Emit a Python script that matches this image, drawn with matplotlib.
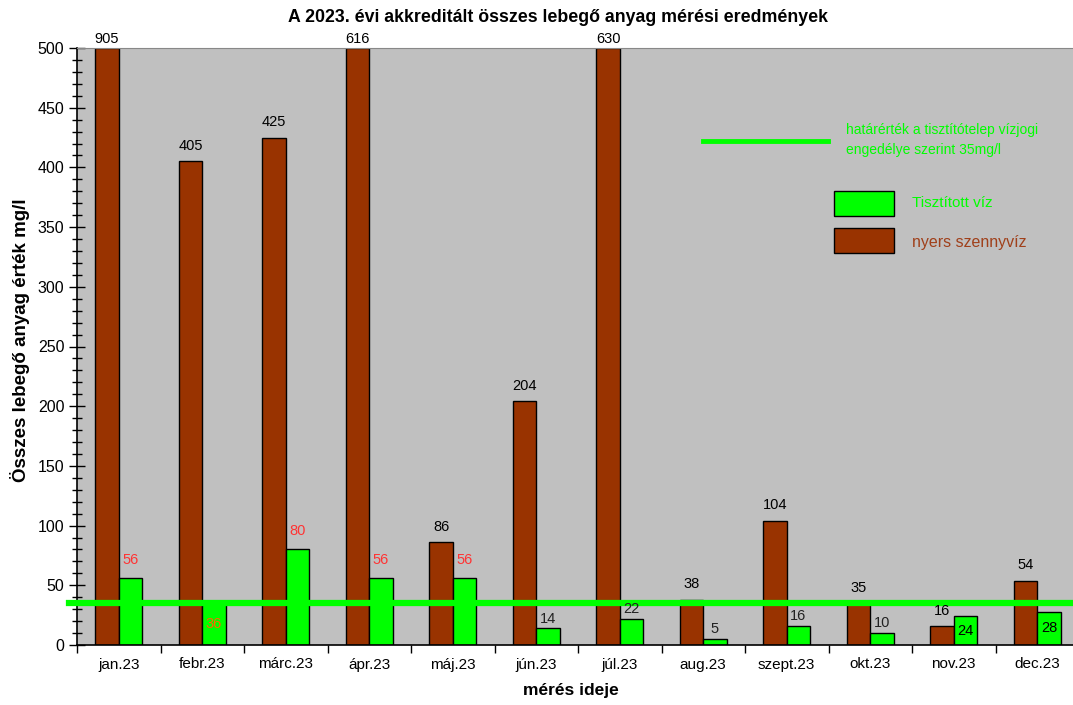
import matplotlib.pyplot as plt
from matplotlib.patches import Rectangle
from matplotlib.lines import Line2D
from matplotlib.ticker import MultipleLocator
import numpy as np

plt.rcParams['font.family'] = ['Liberation Sans', 'DejaVu Sans']

# monthly measurements, mg/l
months = ['jan.23', 'febr.23', 'márc.23', 'ápr.23', 'máj.23', 'jún.23',
          'júl.23', 'aug.23', 'szept.23', 'okt.23', 'nov.23', 'dec.23']
raw = [905, 405, 425, 616, 86, 204, 630, 38, 104, 35, 16, 54]
treated = [56, 36, 80, 56, 56, 14, 22, 5, 16, 10, 24, 28]
limit = 35

ymax = 500
brown = '#993300'
green = '#00FF00'

fig = plt.figure(figsize=(10.73, 7.05), dpi=100)
W, H = 1073, 705

def fx(px):
    return px / W

def fy(py):
    return 1 - py / H

ax = fig.add_axes([fx(77), fy(645), 1002 / W, 597 / H])
ax.set_facecolor('#C0C0C0')

x = np.arange(len(months)) + 0.5
bw = 0.28
ax.bar(x - bw / 2, np.minimum(raw, ymax), bw, color=brown, edgecolor='black', linewidth=1, zorder=2)
ax.bar(x + bw / 2, treated, bw, color=green, edgecolor='black', linewidth=1, zorder=2)

# value labels for raw sewage
for xi, v in zip(x, raw):
    if v > ymax:
        ax.annotate(str(v), (xi - bw / 2, ymax), xytext=(0, 1.5), textcoords='offset points',
                    ha='center', va='bottom', fontsize=10.5, annotation_clip=False)
    else:
        ax.annotate(str(v), (xi - bw / 2, v), xytext=(0, 6), textcoords='offset points',
                    ha='center', va='bottom', fontsize=10.5, zorder=4)

# value labels for treated water
for m, xi, v in zip(months, x, treated):
    if m in ('febr.23', 'nov.23', 'dec.23'):
        col = '#FF6600' if v > limit else 'black'
        ax.text(xi + bw / 2, v / 2, str(v), ha='center', va='center', fontsize=10.5, color=col, zorder=5)
    elif v > limit:
        ax.annotate(str(v), (xi + bw / 2, v), xytext=(0, 8), textcoords='offset points',
                    ha='center', va='bottom', fontsize=10.5, color='#FF3333', zorder=4)
    else:
        ax.annotate(str(v), (xi + bw / 2, v), xytext=(0, 2), textcoords='offset points',
                    ha='center', va='bottom', fontsize=10.5, color='#222222', zorder=4)

# permitted limit line
ax.plot([-0.1, 12.2], [limit, limit], color=green, linewidth=4.5, zorder=3, clip_on=False)

ax.set_xlim(0, 12)
ax.set_ylim(0, ymax)
ax.set_xticks(np.arange(0, 13))
ax.set_xticklabels([])
ax.set_xticks(x, minor=True)
ax.set_xticklabels(months, minor=True, fontsize=11)
ax.tick_params(axis='x', which='major', length=6, direction='out', width=1)
ax.tick_params(axis='x', which='minor', length=0, pad=9)
ax.yaxis.set_major_locator(MultipleLocator(50))
ax.yaxis.set_minor_locator(MultipleLocator(10))
ax.tick_params(axis='y', which='major', length=12, direction='inout', width=1, labelsize=11.5, pad=3)
ax.tick_params(axis='y', which='minor', length=7, direction='inout', width=1)

ax.spines['top'].set_color('#888888')
ax.spines['right'].set_visible(False)
ax.spines['left'].set_linewidth(1.2)
ax.spines['bottom'].set_linewidth(1.2)

fig.text(fx(20), fy(340), 'Összes lebegő anyag érték mg/l', rotation=90, ha='center', va='center',
         fontsize=13.5, fontweight='bold')
fig.text(fx(571), fy(691), 'mérés ideje', ha='center', va='center', fontsize=12.5, fontweight='bold')
fig.text(fx(558), fy(18), 'A 2023. évi akkreditált összes lebegő anyag mérési eredmények',
         ha='center', va='center', fontsize=12.8, fontweight='bold')

# legend drawn by hand
fig.add_artist(Line2D([fx(703), fx(828)], [fy(141), fy(141)], color=green, linewidth=3.5))
fig.text(fx(846), fy(140), 'határérték a tisztítótelep vízjogi\nengedélye szerint 35mg/l',
         ha='left', va='center', fontsize=10, color=green, linespacing=1.6)
fig.add_artist(Rectangle((fx(834), fy(216)), 60 / W, 25 / H, transform=fig.transFigure,
                         facecolor=green, edgecolor='black', linewidth=1))
fig.text(fx(912), fy(203), 'Tisztított víz', ha='left', va='center', fontsize=11, color=green)
fig.add_artist(Rectangle((fx(834), fy(253)), 60 / W, 25 / H, transform=fig.transFigure,
                         facecolor=brown, edgecolor='black', linewidth=1))
fig.text(fx(912), fy(242), 'nyers szennyvíz', ha='left', va='center', fontsize=11.5, color='#A0401A')

fig.savefig('out.png', dpi=100)
